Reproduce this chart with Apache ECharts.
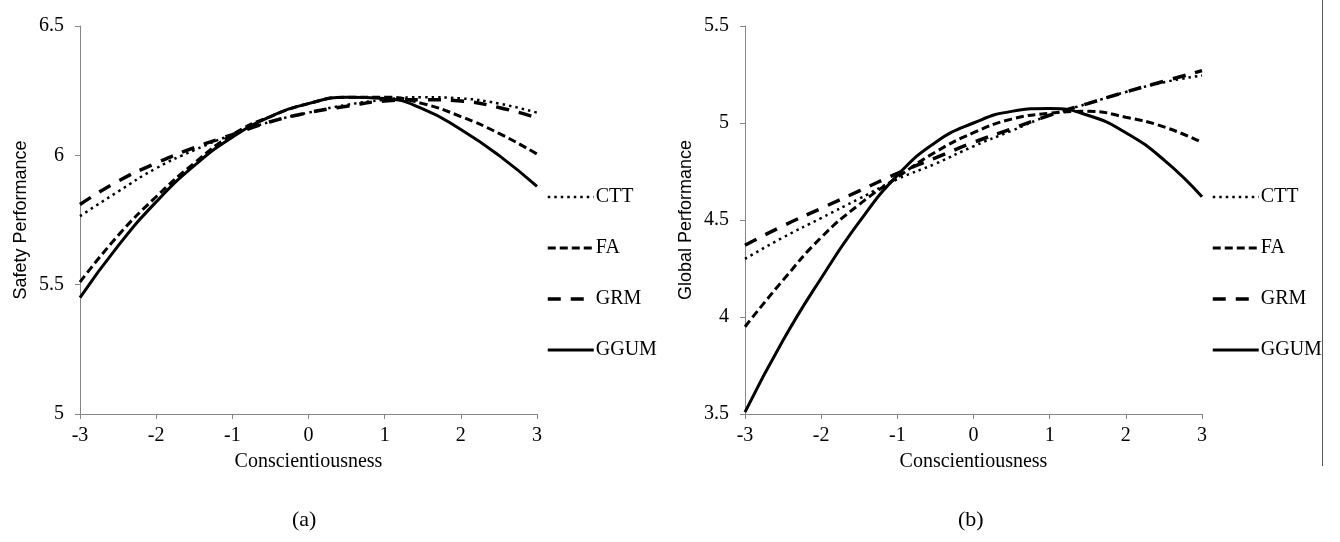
<!DOCTYPE html>
<html>
<head>
<meta charset="utf-8">
<script src="https://cdn.jsdelivr.net/npm/echarts@6/dist/echarts.min.js"></script>
<style>
  html, body { margin: 0; padding: 0; background: #fff; }
  #ec { width: 1340px; height: 542px; }
</style>
</head>
<body>
<div id="ec"></div>
<script>
// conscientiousness values (x)
const xs = [-3, -2.5, -2, -1.5, -1, -0.5, 0, 0.5, 1, 1.5, 2, 2.5, 3];
const models = ["CTT", "FA", "GRM", "GGUM"];

// (a) safety performance
const ctt_a = [5.765, 5.86, 5.95, 6.02, 6.08, 6.13, 6.165, 6.195, 6.215, 6.225, 6.22, 6.2, 6.165];
const fa_a = [5.51, 5.69, 5.84, 5.97, 6.08, 6.15, 6.2, 6.225, 6.225, 6.2, 6.15, 6.085, 6.005];
const grm_a = [5.81, 5.9, 5.97, 6.03, 6.08, 6.13, 6.165, 6.19, 6.21, 6.215, 6.21, 6.185, 6.145];
const ggum_a = [5.45, 5.65, 5.82, 5.96, 6.07, 6.15, 6.2, 6.225, 6.22, 6.18, 6.1, 6.0, 5.88];

// (b) global performance
const ctt_b = [4.3, 4.41, 4.51, 4.61, 4.71, 4.79, 4.88, 4.96, 5.04, 5.1, 5.16, 5.21, 5.245];
const fa_b = [3.95, 4.19, 4.41, 4.58, 4.72, 4.85, 4.95, 5.02, 5.05, 5.06, 5.03, 4.98, 4.9];
const grm_b = [4.37, 4.47, 4.56, 4.65, 4.74, 4.82, 4.9, 4.97, 5.04, 5.1, 5.16, 5.215, 5.27];
const ggum_b = [3.51, 3.88, 4.2, 4.49, 4.73, 4.9, 5.0, 5.06, 5.075, 5.04, 4.95, 4.81, 4.62];

const yTicksA = { min: 5, max: 6.5, interval: 0.5 };
const yTicksB = { min: 3.5, max: 5.5, interval: 0.5 };

const serif = "Liberation Serif";
const sans = "Liberation Sans";

const styles = {
  CTT: { type: [2.5, 4], width: 2.5 },
  FA: { type: [8, 4], width: 3 },
  GRM: { type: [13, 10], width: 3.5 },
  GGUM: { type: "solid", width: 3 },
};

function pairs(ys) {
  return xs.map((x, i) => [x, ys[i]]);
}

function makeSeries(name, ys, idx) {
  return {
    name: name,
    type: "line",
    xAxisIndex: idx,
    yAxisIndex: idx,
    data: pairs(ys),
    smooth: true,
    symbol: "none",
    lineStyle: { color: "#000", width: styles[name].width, type: styles[name].type },
    itemStyle: { color: "#000" },
  };
}

function xAxis(idx) {
  return {
    type: "value",
    gridIndex: idx,
    min: -3,
    max: 3,
    interval: 1,
    name: "Conscientiousness",
    nameLocation: "middle",
    nameGap: 38,
    nameTextStyle: { fontFamily: serif, fontSize: 20, color: "#000" },
    axisLine: { onZero: false, lineStyle: { color: "#868686", width: 1 } },
    axisTick: { show: true, length: 5, lineStyle: { color: "#868686" } },
    axisLabel: { fontFamily: serif, fontSize: 20, color: "#000", margin: 12 },
    splitLine: { show: false },
  };
}

function yAxis(idx, name, t) {
  return {
    type: "value",
    gridIndex: idx,
    min: t.min,
    max: t.max,
    interval: t.interval,
    name: name,
    nameLocation: "middle",
    nameGap: 50,
    nameTextStyle: { fontFamily: sans, fontSize: 18, color: "#000" },
    axisLine: { show: true, onZero: false, lineStyle: { color: "#868686", width: 1 } },
    axisTick: { show: true, length: 5, lineStyle: { color: "#868686" } },
    axisLabel: { fontFamily: serif, fontSize: 20, color: "#000", margin: 16 },
    splitLine: { show: false },
  };
}

function legend(left) {
  return {
    data: models,
    orient: "vertical",
    left: left,
    top: 187,
    padding: 0,
    itemWidth: 46,
    itemHeight: 20,
    itemGap: 31,
    selectedMode: false,
    itemStyle: { opacity: 0 },
    lineStyle: { width: "inherit", type: "inherit" },
    textStyle: { fontFamily: serif, fontSize: 20, color: "#000", padding: [0, 0, 0, -3] },
  };
}

const domChart = document.getElementById("ec");
const myChart = echarts.init(domChart);
myChart.setOption({
  animation: false,
  title: [
    { text: "(a)", left: 287, top: 504, textStyle: { fontFamily: serif, fontSize: 22, fontWeight: "normal", color: "#000" } },
    { text: "(b)", left: 953, top: 504, textStyle: { fontFamily: serif, fontSize: 22, fontWeight: "normal", color: "#000" } },
  ],
  legend: [legend(546), legend(1211)],
  grid: [
    { left: 80, right: 803, top: 26, bottom: 128 },
    { left: 745, right: 138, top: 26, bottom: 128 },
  ],
  xAxis: [xAxis(0), xAxis(1)],
  yAxis: [yAxis(0, "Safety Performance", yTicksA), yAxis(1, "Global Performance", yTicksB)],
  graphic: [
    {
      type: "line",
      shape: { x1: 1322.5, y1: 0, x2: 1322.5, y2: 466 },
      style: { stroke: "#555", lineWidth: 1 },
    },
  ],
  series: [
    makeSeries("CTT", ctt_a, 0),
    makeSeries("FA", fa_a, 0),
    makeSeries("GRM", grm_a, 0),
    makeSeries("GGUM", ggum_a, 0),
    makeSeries("CTT", ctt_b, 1),
    makeSeries("FA", fa_b, 1),
    makeSeries("GRM", grm_b, 1),
    makeSeries("GGUM", ggum_b, 1),
  ],
});
</script>
</body>
</html>
